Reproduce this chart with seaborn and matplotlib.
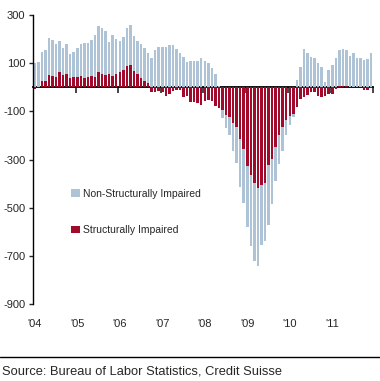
import matplotlib
matplotlib.use("Agg")
import matplotlib.pyplot as plt
import seaborn as sns
import numpy as np
from matplotlib.patches import Patch
from matplotlib.lines import Line2D
import warnings
warnings.filterwarnings("ignore")

# monthly payroll changes, Jan 2004 - Dec 2011 (thousands)
non_structural = [
    100, 104, 147, 154, 204, 197, 181, 191, 164, 180, 139, 147,
    163, 181, 182, 182, 197, 218, 255, 247, 234, 189, 218, 201,
    190, 210, 247, 260, 211, 193, 180, 162, 142, 122, 155, 167,
    167, 166, 176, 176, 160, 143, 126, 105, 107, 110, 110, 121,
    110, 101, 79, 55, 5, -128, -169, -200, -263, -315, -413, -482,
    -582, -661, -721, -744, -655, -640, -571, -485, -390, -318, -263, -200,
    -158, -124, 30, 86, 160, 143, 126, 122, 101, 85, 22, 72,
    93, 122, 156, 160, 155, 131, 143, 122, 122, 114, 118, 143,
]
structural = [
    -8, 2, 24, 26, 51, 47, 43, 64, 51, 55, 40, 43,
    43, 47, 40, 43, 47, 43, 64, 55, 51, 55, 48, 55,
    64, 72, 89, 93, 68, 55, 37, 26, 17, -18, -18, -14,
    -18, -35, -26, -14, -10, -10, -39, -35, -60, -60, -64, -72,
    -56, -53, -56, -77, -85, -96, -117, -124, -147, -165, -214, -256,
    -329, -364, -397, -419, -404, -397, -321, -297, -249, -200, -165, -135,
    -121, -110, -80, -48, -42, -33, -18, -18, -35, -40, -36, -30,
    -30, -6, 5, 6, 5, 0, 0, 0, 0, -10, -10, -3,
]
year_labels = ["'04", "'05", "'06", "'07", "'08", "'09", "'10", "'11"]
y_ticks = [300, 100, -100, -300, -500, -700, -900]

BLUE = "#afc3d7"
RED = "#a10a2b"

sns.set_style("white")
plt.rcParams["font.family"] = ["Liberation Sans", "DejaVu Sans"]
plt.rcParams["axes.unicode_minus"] = False

months = np.arange(len(structural))

fig = plt.figure(figsize=(3.8, 3.81), dpi=100)
ax = fig.add_axes([33 / 380, 77 / 381, 340 / 380, 289 / 381])

sns.barplot(x=months, y=non_structural, color=BLUE, saturation=1, width=0.7,
            ax=ax, linewidth=0)
sns.barplot(x=months, y=structural, color=RED, saturation=1, width=0.7,
            ax=ax, linewidth=0)

ymin, ymax = -900, 300
ax.set_ylim(ymin, ymax)
ax.set_xlim(-0.5, len(months) - 0.5)

# y axis
ax.set_yticks(y_ticks)
ax.set_yticklabels([str(v) for v in y_ticks], fontsize=8)
ax.tick_params(axis="y", direction="out", length=3, width=1, pad=2.5, left=True)

# year labels along the bottom
ax.set_xticks([12 * k for k in range(len(year_labels))])
ax.set_xticklabels(year_labels, fontsize=8)
ax.tick_params(axis="x", length=0, pad=11)
ax.set_xlabel("")
ax.set_ylabel("")

for side in ["top", "right", "bottom"]:
    ax.spines[side].set_visible(False)
ax.spines["left"].set_color("black")
ax.spines["left"].set_linewidth(1)

# zero line with year-boundary ticks
zero_frac = (0 - ymin) / (ymax - ymin)
sec = ax.secondary_xaxis(zero_frac)
sec.set_xticks([12 * k - 0.5 for k in range(1, 9)])
sec.set_xticklabels([])
sec.tick_params(direction="in", length=4, width=1.2)
for sp in sec.spines.values():
    sp.set_linewidth(1.3)
    sp.set_color("black")

handles = [Patch(facecolor=BLUE, edgecolor="none", label="Non-Structurally Impaired"),
           Patch(facecolor=RED, edgecolor="none", label="Structurally Impaired")]
ax.legend(handles=handles, loc="center left", bbox_to_anchor=(0.1, 0.318),
          frameon=False, fontsize=7.5, handlelength=0.8, handleheight=0.8,
          handletextpad=0.3, labelspacing=2.5, borderaxespad=0)

fig.add_artist(Line2D([0, 1], [24 / 381, 24 / 381], color="black", lw=1,
                      transform=fig.transFigure))
fig.text(2 / 380, 10 / 381, "Source: Bureau of Labor Statistics, Credit Suisse",
         fontsize=9.3, va="center", ha="left")

fig.savefig("out.png", dpi=100)
